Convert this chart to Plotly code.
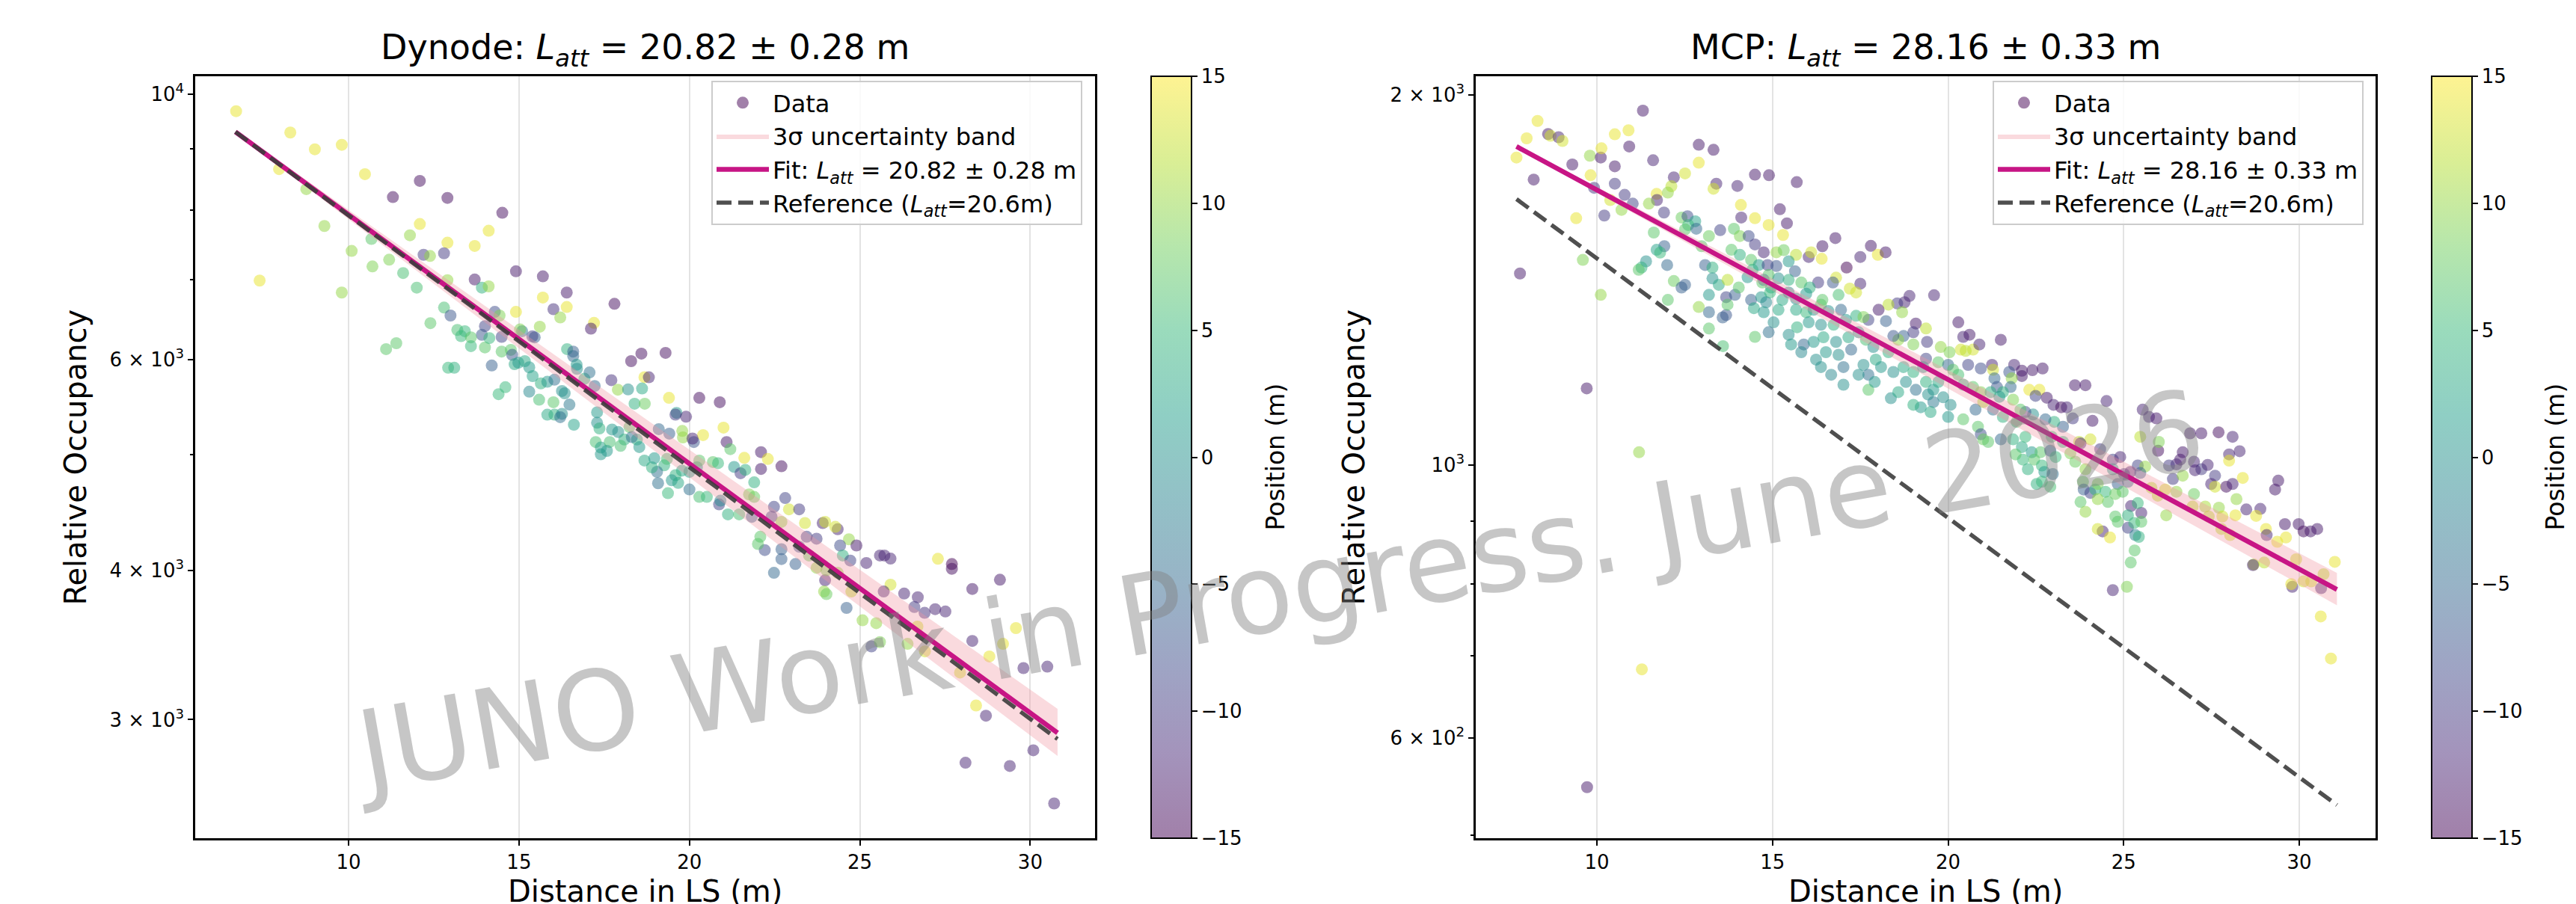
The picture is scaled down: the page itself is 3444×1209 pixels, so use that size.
import plotly.graph_objects as go

# ---------------- data: Dynode panel ----------------
dyn_dist = [
    6.70, 8.29, 9.01, 9.80, 7.96, 8.76, 9.29, 7.39, 9.80, 10.48,
    12.09, 11.30, 12.90, 14.51, 12.09, 11.80, 14.11, 12.90, 13.70, 10.67,
    10.09, 11.19, 10.70, 12.20, 12.39, 12.80, 11.60, 12.00, 12.90, 13.70,
    13.91, 14.11, 14.91, 15.70, 15.70, 16.40, 16.40, 16.01, 16.21, 14.91,
    17.20, 17.11, 15.61, 12.80, 12.99, 12.40, 14.29, 14.00, 13.91, 14.49,
    14.43, 13.19, 13.41, 13.30, 13.59, 13.59, 14.00, 14.13, 14.49, 14.76,
    14.80, 15.09, 15.03, 15.46, 15.39, 16.41, 16.59, 16.59, 14.20, 12.92,
    13.10, 11.10, 11.40, 14.40, 14.60, 14.87, 14.98, 15.17, 15.30, 15.40,
    15.30, 15.59, 15.83, 16.04, 16.26, 16.21, 16.01, 15.64, 15.83, 16.04,
    16.26, 16.34, 16.48, 16.61, 16.69, 16.70, 16.92, 17.07, 17.22, 17.29,
    17.29, 17.36, 17.25, 17.40, 17.40, 17.80, 18.59, 18.29, 19.30, 17.71,
    18.68, 18.81, 17.90, 18.20, 18.61, 18.39, 18.69, 19.40, 19.62, 19.59,
    19.90, 20.29, 20.89, 21.00, 20.40, 19.79, 19.81, 20.13, 20.09, 19.10,
    19.41, 21.09, 21.20, 22.10, 22.30, 21.61, 22.10, 22.70, 20.69, 20.84,
    21.31, 21.50, 21.64, 21.90, 20.22, 20.00, 19.78, 19.59, 19.26, 19.05,
    18.90, 18.68, 18.97, 19.34, 20.29, 19.08, 19.37, 19.48, 19.67, 20.00,
    20.29, 20.51, 20.87, 20.91, 21.13, 21.46, 21.75, 21.90, 21.83, 22.48,
    22.81, 22.92, 23.22, 22.41, 22.70, 23.39, 23.91, 23.98, 24.35, 24.28,
    24.68, 24.90, 24.42, 24.50, 24.72, 25.19, 25.59, 23.44, 23.22, 23.73,
    22.70, 22.70, 23.11, 22.48, 22.21, 22.01, 22.08, 23.51, 23.73, 23.98,
    24.02, 23.95, 24.02, 24.61, 24.75, 24.35, 25.08, 25.48, 25.34, 17.73,
    17.91, 18.09, 17.66, 17.58, 17.98, 18.24, 18.46, 18.53, 18.31, 25.72,
    25.90, 25.90, 25.70, 26.30, 26.70, 26.60, 26.90, 27.21, 27.51, 27.29,
    27.70, 27.70, 28.30, 29.11, 29.58, 29.20, 28.30, 28.80, 29.80, 30.50,
    28.41, 28.70, 30.09, 28.10, 29.40, 30.70, 26.69, 26.91, 27.94, 26.40,
    25.59,
]
dyn_occ = [
    9679, 9289, 8994, 9072, 8657, 8330, 7759, 6985, 6826, 8574,
    8463, 8203, 8190, 7959, 7789, 7622, 7689, 7514, 7467, 7568,
    7396, 7272, 7178, 7341, 7324, 7362, 7087, 6891, 6991, 7000,
    6891, 6908, 7111, 7043, 6761, 6826, 6639, 6611, 6507, 6577,
    6439, 6368, 6392, 6632, 6531, 6436, 6577, 6399, 6292, 6268,
    6531, 6352, 6337, 6277, 6262, 6157, 6142, 6253, 6093, 6113,
    6055, 6337, 6358, 6262, 6275, 6122, 6093, 6040, 5932, 5906,
    5906, 6122, 6192, 5613, 5689, 5947, 5964, 5982, 5911, 5812,
    5640, 5554, 5396, 5396, 5405, 5370, 5527, 5730, 5749, 5772,
    5648, 5623, 5502, 5293, 5940, 5894, 5782, 5853, 5703, 5421,
    5313, 5255, 5119, 5065, 5000, 6680, 6069, 5982, 6078, 5767,
    5800, 5799, 5662, 5665, 5675, 5511, 5511, 5574, 5415, 5397,
    5375, 5574, 5527, 5263, 5188, 5230, 5165, 5119, 5154, 5248,
    5203, 5119, 5050, 5021, 4955, 4966, 4861, 4886, 4926, 4915,
    4880, 4821, 4852, 4737, 4876, 4834, 4845, 4803, 4895, 4834,
    4876, 4940, 4962, 4955, 4940, 4729, 4639, 4756, 4732, 4673,
    4606, 4606, 4540, 4573, 4454, 4454, 4628, 4606, 4433, 4519,
    4596, 4497, 4497, 4433, 4390, 4380, 4380, 4390, 4328, 4348,
    4245, 4195, 4195, 4115, 4075, 4056, 4115, 4266, 4185, 4250,
    4165, 4087, 4048, 3980, 4158, 4207, 4266, 4115, 4018, 3923,
    4000, 3839, 3820, 3720, 3839, 3980, 3632, 3612, 3454, 5244,
    5219, 5144, 5119, 5033, 5082, 5269, 5144, 5070, 5168, 4115,
    4090, 3890, 3839, 3824, 3797, 3726, 3685, 3711, 3694, 4089,
    4048, 4011, 3858, 3927, 3578, 3471, 3491, 3388, 3313, 3322,
    3083, 3023, 2828, 2761, 2744, 2553, 3589, 3421, 3285, 3471,
    3483,
]
dyn_pos = [
    14, 14, 14, 14, 14, 10, 10, 14, 10, 14,
    -14, -14, -14, -14, 14, 10, 14, 14, 14, 7,
    10, 9, 9, -10, 10, -10, 6, 6, 10, -13,
    4, 10, -13, -13, 14, -13, 14, -11, 10, 14,
    14, -13, 10, 6, -7, 7, -8, -9, -7, -9,
    9, 6, 5, 5, 7, 5, 7, 5, 7, 7,
    -7, -3, 9, -6, -9, 4, -6, -5, -6, 5,
    4, 7, 7, 5, 5, 3, 1, 3, 1, 2,
    -1, 6, 3, 4, 0, -4, 7, 4, 1, -4,
    0, 0, -3, 2, 1, 0, 4, -4, -5, 1,
    0, 4, 6, 2, 1, -14, -14, -14, -14, -11,
    14, -12, 10, 0, 3, 4, 8, 14, 1, -10,
    -12, -14, -14, 14, 14, 10, 10, -7, -12, -5,
    -6, -13, 7, -13, 14, 14, -13, -14, 7, 5,
    1, -10, 4, 4, 0, 2, 3, 4, 4, -4,
    4, 3, 1, 6, 7, -4, 5, 1, 3, -4,
    6, 5, -9, -1, 4, 6, 9, 8, -6, -9,
    -9, 13, -10, -9, 10, 13, -12, 13, -12, 13,
    10, -13, -8, 4, -9, -12, -12, -9, -7, -10,
    -6, -6, -6, -5, -8, 7, 7, 8, 10, -12,
    9, 10, 8, -6, 12, 10, 10, 10, -9, 1,
    0, 4, 6, 1, 6, 7, 4, 1, -4, -12,
    -12, 13, -12, -12, -12, -10, -11, -12, -12, 14,
    -15, -14, -13, -13, 14, 14, -12, 14, -12, -12,
    14, -12, -12, -12, -12, -12, 13, 13, 13, 10,
    9,
]
dyn_fit_x = [6.68, 30.80]
dyn_fit_y = [9300, 2925]
dyn_band_lo = [9270, 2797]
dyn_band_hi = [9330, 3063]
dyn_ref_y = [9300, 2890]

# ---------------- data: MCP panel ----------------
mcp_dist = [
    7.71, 8.00, 8.31, 8.61, 8.68, 8.91, 9.02, 8.20, 9.30, 9.80,
    9.82, 10.11, 10.13, 9.92, 10.51, 10.90, 10.92, 11.31, 10.51, 10.51,
    10.79, 11.02, 10.38, 10.70, 9.41, 10.21, 11.60, 11.91, 11.70, 11.71,
    11.48, 12.19, 12.51, 12.12, 12.02, 12.90, 13.32, 12.90, 13.40, 13.32,
    14.00, 14.50, 14.90, 15.69, 14.10, 14.11, 14.50, 11.92, 11.70, 11.80,
    11.62, 11.40, 11.27, 11.19, 12.00, 9.60, 7.81, 10.11, 9.71, 11.20,
    12.19, 12.41, 12.51, 12.02, 12.41, 12.58, 12.80, 12.60, 12.51, 12.83,
    13.19, 13.51, 13.90, 14.07, 14.32, 14.50, 12.98, 13.08, 13.29, 13.83,
    14.07, 14.39, 14.61, 13.29, 13.47, 13.72, 13.68, 13.93, 13.19, 13.19,
    13.58, 13.68, 13.72, 12.90, 13.19, 13.59, 14.50, 14.39, 14.47, 14.68,
    14.71, 14.29, 14.04, 14.43, 9.72, 11.28, 15.21, 15.41, 14.89, 15.30,
    14.75, 15.11, 15.32, 15.67, 16.03, 16.10, 16.40, 16.42, 16.79, 17.80,
    18.00, 18.22, 17.50, 14.86, 15.11, 15.46, 15.64, 17.11, 16.81, 16.72,
    16.30, 17.50, 17.20, 17.38, 16.88, 14.89, 15.17, 15.46, 15.82, 16.06,
    15.96, 16.42, 15.67, 15.28, 14.93, 14.82, 18.90, 18.76, 18.55, 18.30,
    19.60, 18.02, 18.69, 17.73, 17.38, 17.59, 18.23, 19.08, 19.37, 19.01,
    18.73, 18.58, 18.44, 19.40, 19.01, 19.79, 20.36, 20.71, 20.50, 20.89,
    20.04, 20.29, 20.43, 20.61, 19.37, 19.72, 20.00, 20.57, 20.14, 20.93,
    15.46, 15.67, 15.96, 16.17, 16.38, 16.59, 16.95, 17.09, 16.74, 16.38,
    16.03, 15.70, 15.46, 15.53, 15.89, 16.17, 16.45, 16.81, 17.16, 17.45,
    17.66, 17.87, 17.24, 16.88, 16.52, 16.24, 15.82, 16.38, 16.67, 17.02,
    17.59, 17.94, 18.30, 18.09, 17.73, 17.45, 18.44, 18.73, 19.01, 19.29,
    18.80, 19.08, 19.37, 19.58, 19.72, 19.86, 20.07, 19.58, 19.22, 19.50,
    20.00, 19.01, 18.37, 18.58, 17.73, 17.91, 17.02, 20.29, 20.43, 20.71,
    20.93, 21.00, 20.78, 20.43, 20.85, 20.93, 21.00, 19.43, 14.75, 14.96,
    14.75, 15.03, 14.89, 15.17, 21.50, 21.25, 21.28, 21.88, 22.10, 22.10,
    22.40, 22.69, 21.74, 21.81, 21.32, 21.39, 21.78, 21.56, 21.85, 21.46,
    21.21, 22.31, 22.60, 22.49, 22.81, 23.00, 23.22, 23.38, 23.61, 23.91,
    24.51, 23.55, 23.27, 23.02, 22.77, 22.42, 22.20, 22.06, 21.95, 21.56,
    21.28, 21.50, 21.14, 21.85, 22.10, 22.20, 22.38, 22.63, 22.91, 22.95,
    23.27, 23.06, 22.45, 22.13, 21.92, 22.27, 22.67, 22.74, 22.52, 22.67,
    22.98, 22.91, 23.48, 23.73, 24.05, 24.11, 23.77, 24.33, 23.91, 23.62,
    23.84, 23.86, 24.05, 24.19, 24.26, 24.48, 24.55, 24.26, 23.77, 23.91,
    24.40, 24.26, 24.61, 24.69, 24.90, 24.69, 25.01, 25.19, 24.83, 24.97,
    24.76, 25.12, 25.40, 25.61, 25.47, 25.21, 25.50, 25.40, 25.12, 24.76,
    24.83, 25.12, 25.30, 25.50, 25.33, 25.43, 25.31, 25.20, 24.69, 25.09,
    25.54, 25.72, 25.93, 25.47, 25.98, 26.00, 26.68, 26.61, 26.50, 26.29,
    26.40, 26.68, 26.89, 27.21, 27.00, 27.21, 27.03, 27.39, 27.60, 27.49,
    27.60, 27.92, 28.10, 27.70, 28.10, 28.30, 28.00, 28.00, 28.39, 28.21,
    28.18, 28.49, 28.89, 28.77, 27.00, 27.32, 27.71, 27.81, 27.42, 26.18,
    26.50, 26.21, 25.79, 25.97, 26.96, 27.78, 28.03, 29.05, 29.07, 29.37,
    29.62, 29.59, 29.98, 30.12, 30.32, 30.51, 29.40, 29.31, 28.70, 28.68,
    29.00, 29.91, 29.80, 29.77, 30.12, 30.34, 30.62, 30.69, 31.01, 30.61,
    30.90,
]
mcp_occ = [
    1778, 1843, 1904, 1858, 1852, 1847, 1834, 1706, 1755, 1784,
    1720, 1778, 1809, 1680, 1857, 1871, 1815, 1941, 1749, 1693,
    1658, 1631, 1642, 1612, 1587, 1595, 1769, 1604, 1661, 1642,
    1631, 1713, 1726, 1685, 1665, 1821, 1804, 1761, 1693, 1677,
    1686, 1722, 1720, 1698, 1627, 1589, 1587, 1506, 1496, 1488,
    1545, 1464, 1447, 1441, 1454, 1468, 1431, 1375, 1154, 1024,
    1411, 1394, 1401, 1362, 1589, 1593, 1578, 1567, 1554, 1556,
    1535, 1552, 1556, 1535, 1535, 1511, 1506, 1454, 1447, 1496,
    1482, 1468, 1454, 1418, 1401, 1414, 1369, 1375, 1375, 1331,
    1318, 1324, 1350, 1344, 1291, 1249, 1271, 1362, 1341, 1369,
    1407, 1421, 1394, 1441, 547, 682, 1614, 1572, 1567, 1538,
    1489, 1489, 1495, 1482, 1476, 1489, 1471, 1506, 1529, 1507,
    1482, 1489, 1476, 1454, 1451, 1464, 1437, 1447, 1420, 1407,
    1407, 1404, 1391, 1381, 1375, 1427, 1418, 1414, 1407, 1394,
    1378, 1362, 1365, 1362, 1381, 1356, 1372, 1356, 1353, 1350,
    1374, 1337, 1331, 1312, 1322, 1319, 1309, 1303, 1291, 1282,
    1273, 1264, 1273, 1259, 1253, 1247, 1241, 1241, 1238, 1253,
    1235, 1306, 1271, 1276, 1220, 1212, 1206, 1206, 1195, 1198,
    1381, 1337, 1331, 1337, 1350, 1334, 1337, 1312, 1300, 1300,
    1306, 1294, 1276, 1253, 1253, 1259, 1270, 1259, 1270, 1282,
    1264, 1247, 1241, 1229, 1235, 1218, 1235, 1201, 1184, 1201,
    1206, 1218, 1235, 1201, 1184, 1184, 1190, 1201, 1190, 1201,
    1168, 1151, 1168, 1151, 1168, 1135, 1119, 1125, 1114, 1104,
    1094, 1119, 1133, 1146, 1151, 1168, 1162, 1184, 1162, 1157,
    1146, 1125, 1109, 1089, 1074, 1059, 1049, 1141, 1414, 1394,
    1331, 1306, 1282, 1337, 1264, 1206, 1195, 1206, 1193, 1181,
    1194, 1198, 1190, 1176, 1176, 1157, 1157, 1146, 1130, 1136,
    1146, 1151, 1151, 1138, 1134, 1119, 1114, 1114, 1161, 1161,
    1127, 1091, 1074, 1084, 1089, 1099, 1104, 1109, 1084, 1094,
    1109, 1049, 1044, 1049, 1034, 1054, 1024, 1024, 1027, 1054,
    1044, 1015, 1010, 1010, 1020, 992, 999, 987, 965, 969,
    983, 960, 1022, 1044, 1049, 1086, 1041, 1030, 992, 1006,
    969, 955, 949, 955, 965, 951, 933, 938, 933, 916,
    883, 887, 873, 1010, 1015, 992, 983, 987, 965, 951,
    947, 969, 999, 997, 985, 926, 914, 931, 910, 908,
    899, 889, 897, 899, 877, 874, 852, 833, 791, 796,
    1109, 1094, 1091, 1054, 1027, 1044, 1024, 1010, 1001, 999,
    974, 980, 1061, 1061, 1006, 992, 990, 1000, 980, 965,
    960, 960, 965, 1063, 1054, 1026, 1020, 1008, 976, 938,
    910, 920, 921, 909, 947, 925, 923, 908, 908, 955,
    951, 910, 958, 944, 925, 887, 877, 887, 877, 866,
    873, 895, 895, 883, 883, 887, 971, 955, 830, 829,
    833, 838, 796, 800, 804, 804, 794, 815, 834, 753,
    696,
]
mcp_pos = [
    14, 14, 14, -13, 13, -12, 13, -13, -13, 10,
    14, -13, 14, -10, 14, 14, -13, -13, -13, -10,
    -10, -9, 13, 10, 14, -10, -12, -10, 14, -12,
    10, -12, 13, 12, 10, -13, -13, 14, -12, 13,
    -12, -13, -13, -13, 14, -12, 14, -6, 2, 5,
    7, 0, 4, 7, -5, 9, -13, 10, -13, 10,
    8, -6, -6, 7, 8, -8, 2, 5, 7, -5,
    8, -9, 7, 9, -8, -10, 7, -6, 4, 7,
    4, 7, 1, 0, 3, 12, -9, -6, 1, -5,
    -6, -7, 7, 10, 7, 6, 7, -6, 3, 1,
    7, 1, 7, 4, -13, 14, -13, -13, 14, 14,
    -12, 10, 8, 12, -12, 13, 14, -13, -13, -13,
    14, -13, -12, -9, -7, 1, -6, -15, 13, -7,
    -10, -12, 13, 13, 6, 7, 0, 4, 7, 4,
    1, 7, 0, 3, 5, -1, -12, -12, -10, 12,
    -12, -13, 10, -9, 4, 9, -6, -13, 12, -10,
    -6, 10, -7, -10, 9, 10, 13, 13, 12, -12,
    9, -13, -12, -13, -9, 7, -5, -9, 7, -8,
    0, 3, 5, 1, 7, 0, -5, 1, 4, 0,
    1, 4, 0, 1, -5, 1, 3, 0, 3, 1,
    6, 0, -5, 0, 1, 0, -1, 0, -1, -4,
    0, 3, 4, 1, -4, 0, 0, 3, 4, 1,
    0, -4, 4, 1, 3, 0, 0, -3, 1, 3,
    1, 4, 0, 3, 7, 1, 0, 6, 4, 7,
    9, 11, -5, 7, 7, -8, 8, 0, 0, 4,
    1, 0, -4, 3, -13, -12, 13, -12, -13, -13,
    -13, -13, -7, 10, -5, -7, -5, 4, 9, 1,
    4, 14, 14, -9, -13, -12, -14, -12, -13, -13,
    -12, -10, -6, 4, -5, 0, -8, 7, 6, 4,
    -4, -5, 7, 4, 3, 5, 1, 7, -6, 5,
    4, 5, 7, 5, 7, 4, 5, 1, 4, 5,
    -4, 6, 9, 12, 13, -13, -12, -10, 10, 8,
    8, -6, -9, 4, 9, 5, 7, 10, 7, 10,
    -12, 13, 14, -9, -12, 1, -10, -12, -6, 7,
    8, -4, -9, 10, -6, -12, -12, 5, 4, 7,
    7, -9, 5, 7, -2, 4, 7, 7, -12, 9,
    -12, -12, -13, 12, -14, 9, -13, -13, -12, -10,
    -10, 10, -13, -13, -12, -10, -12, -12, -10, -12,
    13, -14, -12, -14, -12, -12, -12, 14, 14, 10,
    14, -12, -12, 14, 8, 11, 10, 13, 12, 13,
    10, 10, 12, 12, 12, 12, 13, 14, -12, 14,
    14, -13, -13, -14, -13, -13, -13, -13, 12, -12,
    12, 13, -12, 14, 13, 13, -12, 12, 14, 14,
    14,
]
mcp_fit_x = [7.71, 31.07]
mcp_fit_y = [1815, 792]
mcp_band_lo = [1810, 769]
mcp_band_hi = [1820, 817]
mcp_ref_y = [1645, 529]

cbar_ticks = [-15, -10, -5, 0, 5, 10, 15]
cbar_ticktext = ["\u221215", "\u221210", "\u22125", "0", "5", "10", "15"]
x_ticks = [10, 15, 20, 25, 30]
dyn_yticks = [3000, 4000, 6000, 10000]
dyn_yticktext = ["3 \u00d7 10<sup>3</sup>", "4 \u00d7 10<sup>3</sup>",
                 "6 \u00d7 10<sup>3</sup>", "10<sup>4</sup>"]
dyn_yminor = [5000, 7000, 8000, 9000]
mcp_yticks = [600, 1000, 2000]
mcp_yticktext = ["6 \u00d7 10<sup>2</sup>", "10<sup>3</sup>", "2 \u00d7 10<sup>3</sup>"]
mcp_yminor = [500, 700, 800, 900]

assert len(dyn_dist) == len(dyn_occ) == len(dyn_pos)
assert len(mcp_dist) == len(mcp_occ) == len(mcp_pos)

# ---------------- styling ----------------
FONT = "DejaVu Sans"
W, H = 3444, 1209
ALPHA = 0.5
VIRIDIS = ['#440154', '#482878', '#3e4989', '#31688e', '#26828e',
           '#1f9e89', '#35b779', '#6ece58', '#b5de2b', '#fde725']


def rgba(hexc, a):
    h = hexc.lstrip('#')
    return f"rgba({int(h[0:2],16)},{int(h[2:4],16)},{int(h[4:6],16)},{a})"


CSCALE = [[i / (len(VIRIDIS) - 1), rgba(c, ALPHA)] for i, c in enumerate(VIRIDIS)]
FIT_COLOR = "#c71585"
REF_COLOR = "rgba(60,60,60,0.9)"
BAND_COLOR = "rgba(240,150,160,0.35)"

AX_TOP, AX_BOT = 94, 1113
PANELS = [
    dict(name="Dynode", ax=(253, 1456), cbar=1531, cbtitle=1697, ytitle=92,
         legx=1439, xr=[5.5, 31.9], yr=[3.378, 4.015], grid=4,
         dist=dyn_dist, occ=dyn_occ, pos=dyn_pos, fx=dyn_fit_x, fy=dyn_fit_y,
         lo=dyn_band_lo, hi=dyn_band_hi, ref=dyn_ref_y, L="20.82 \u00b1 0.28",
         yt=dyn_yticks, ytt=dyn_yticktext, ym=dyn_yminor),
    dict(name="MCP", ax=(1965, 3168), cbar=3243, cbtitle=3408, ytitle=1801,
         legx=3152, xr=[6.55, 32.17], yr=[2.6965, 3.316], grid=3,
         dist=mcp_dist, occ=mcp_occ, pos=mcp_pos, fx=mcp_fit_x, fy=mcp_fit_y,
         lo=mcp_band_lo, hi=mcp_band_hi, ref=mcp_ref_y, L="28.16 \u00b1 0.33",
         yt=mcp_yticks, ytt=mcp_yticktext, ym=mcp_yminor),
]

LATT = "<i>L<sub>att</sub></i>"

fig = go.Figure()
annotations = []
shapes = []
layout = {}

for i, p in enumerate(PANELS):
    sfx = "" if i == 0 else str(i + 1)
    xa, ya = "x" + sfx, "y" + sfx
    leg = "legend" + sfx
    # data scatter
    fig.add_trace(go.Scatter(
        x=p["dist"], y=p["occ"], mode="markers", xaxis=xa, yaxis=ya,
        showlegend=False, hoverinfo="skip",
        marker=dict(size=16, color=p["pos"], colorscale=CSCALE, cmin=-15, cmax=15,
                    line=dict(width=0),
                    showscale=True,
                    colorbar=dict(
                        x=p["cbar"] / W, xanchor="left", xpad=0, xref="paper",
                        y=1 - (AX_TOP + AX_BOT) / 2 / H, yanchor="middle", ypad=0,
                        len=(AX_BOT - AX_TOP) / H, lenmode="fraction",
                        thickness=54, thicknessmode="pixels",
                        outlinecolor="black", outlinewidth=2,
                        tickmode="array", tickvals=cbar_ticks, ticktext=cbar_ticktext,
                        ticks="outside", ticklen=7, tickwidth=2, tickcolor="black",
                        tickfont=dict(size=26, family=FONT, color="black"))),
    ))
    # legend proxy for data
    fig.add_trace(go.Scatter(
        x=[None], y=[None], mode="markers", xaxis=xa, yaxis=ya, name="Data",
        legend=leg, marker=dict(size=16, color=rgba(VIRIDIS[0], 0.5))))
    # band
    fig.add_trace(go.Scatter(
        x=p["fx"] + p["fx"][::-1], y=p["hi"] + p["lo"][::-1], xaxis=xa, yaxis=ya,
        fill="toself", fillcolor=BAND_COLOR, line=dict(width=0), mode="lines",
        name="3\u03c3 uncertainty band", legend=leg, hoverinfo="skip"))
    # fit
    fig.add_trace(go.Scatter(
        x=p["fx"], y=p["fy"], xaxis=xa, yaxis=ya, mode="lines",
        line=dict(color=FIT_COLOR, width=6.5),
        name=f"Fit: {LATT} = {p['L']} m", legend=leg))
    # reference
    fig.add_trace(go.Scatter(
        x=p["fx"], y=p["ref"], xaxis=xa, yaxis=ya, mode="lines",
        line=dict(color=REF_COLOR, width=5.5, dash="20px,9px"),
        name=f"Reference ({LATT}=20.6m)", legend=leg))

    x0, x1 = p["ax"]
    axis_common = dict(showline=True, linecolor="black", linewidth=2.5, mirror=True,
                       ticks="outside", ticklen=7, tickwidth=2, tickcolor="black",
                       tickfont=dict(size=26, family=FONT, color="black"), zeroline=False)
    layout["xaxis" + sfx] = dict(domain=[x0 / W, x1 / W], range=p["xr"], anchor=ya,
                                 tickmode="array", tickvals=x_ticks,
                                 showgrid=True, gridcolor="#e3e3e3", gridwidth=1.5,
                                 **axis_common)
    layout["yaxis" + sfx] = dict(domain=[1 - AX_BOT / H, 1 - AX_TOP / H], type="log",
                                 range=p["yr"], anchor=xa, tickmode="array",
                                 tickvals=p["yt"], ticktext=p["ytt"], showgrid=False,
                                 minor=dict(tickmode="array", tickvals=p["ym"],
                                            ticks="outside", ticklen=4, tickwidth=1.5,
                                            tickcolor="black", showgrid=False),
                                 **axis_common)
    layout[leg] = dict(x=p["legx"] / W, xanchor="right", y=1 - 100 / H, yanchor="top",
                       bgcolor="rgba(255,255,255,0.8)", bordercolor="#cccccc",
                       borderwidth=2, font=dict(size=32, family=FONT, color="black"),
                       itemwidth=70, tracegroupgap=0)
    shapes.append(dict(type="line", xref=xa + " domain", yref=ya, x0=0, x1=1,
                       y0=p["grid"], y1=p["grid"], layer="below",
                       line=dict(color="#e3e3e3", width=1.5)))
    cx = (x0 + x1) / 2 / W
    annotations += [
        dict(text=f"{p['name']}: {LATT} = {p['L']} m", x=cx, y=1 - 58 / H,
             xref="paper", yref="paper", xanchor="center", yanchor="middle",
             showarrow=False, font=dict(size=46, family=FONT, color="black")),
        dict(text="Distance in LS (m)", x=cx, y=0, xref="paper", yref="paper",
             xanchor="center", yanchor="bottom", showarrow=False,
             font=dict(size=40, family=FONT, color="black")),
        dict(text="Relative Occupancy", x=p["ytitle"] / W, y=1 - (AX_TOP + AX_BOT) / 2 / H,
             xref="paper", yref="paper", xanchor="center", yanchor="middle",
             textangle=-90, showarrow=False,
             font=dict(size=40, family=FONT, color="black")),
        dict(text="Position (m)", x=p["cbtitle"] / W, y=1 - (AX_TOP + AX_BOT) / 2 / H,
             xref="paper", yref="paper", xanchor="center", yanchor="middle",
             textangle=-90, showarrow=False,
             font=dict(size=33, family=FONT, color="black")),
    ]

annotations.append(dict(
    text="JUNO Work in Progress. June 2026", x=1701 / W, y=1 - 783 / H,
    xref="paper", yref="paper", xanchor="center", yanchor="middle",
    textangle=-10, showarrow=False,
    font=dict(size=148, family=FONT, color="rgba(128,128,128,0.45)")))

fig.update_layout(
    width=W, height=H, margin=dict(l=0, r=0, t=0, b=0, pad=0),
    paper_bgcolor="white", plot_bgcolor="white",
    font=dict(family=FONT, color="black"),
    annotations=annotations, shapes=shapes, **layout,
)

fig.write_html("out.html")
